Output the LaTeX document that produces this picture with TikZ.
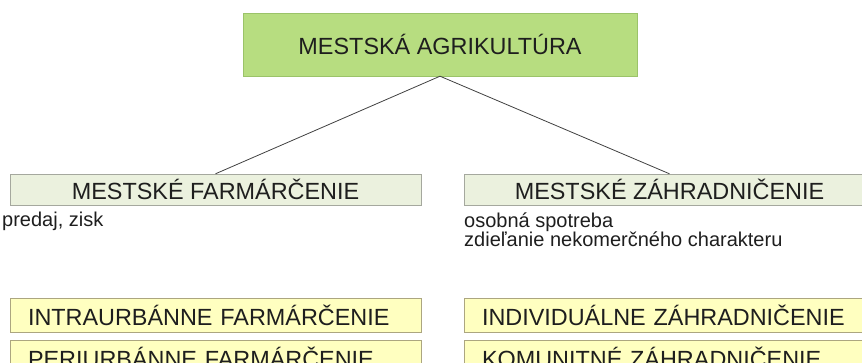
\documentclass[tikz,border=0pt]{standalone}
\usepackage{fontspec}
\setmainfont{Liberation Sans}
\definecolor{topgreen}{RGB}{183,221,128}
\definecolor{topedge}{RGB}{155,195,105}
\definecolor{midgreen}{RGB}{235,241,222}
\definecolor{midedge}{RGB}{165,168,158}
\definecolor{lowyellow}{RGB}{255,255,192}
\definecolor{lowedge}{RGB}{172,166,128}
\definecolor{ink}{RGB}{30,30,30}
\begin{document}
\begin{tikzpicture}[x=1pt,y=-1pt,
    topbox/.style={draw=topedge,fill=topgreen,minimum width=394pt,minimum height=63pt,inner sep=0pt,text height=21pt,text depth=0pt,text=ink,font=\fontsize{23.4}{28}\selectfont},
    midbox/.style={draw=midedge,fill=midgreen,minimum width=411pt,minimum height=31pt,inner sep=0pt,text height=21pt,text depth=0pt,text=ink,font=\fontsize{23.4}{28}\selectfont},
    lowbox/.style={draw=lowedge,fill=lowyellow,text width=375pt,inner xsep=18pt,inner ysep=0pt,minimum height=34pt,align=left,text=ink,font=\fontsize{23.4}{28}\selectfont},
    note/.style={inner sep=0pt,anchor=base west,text=ink,font=\fontsize{20}{20}\selectfont},
    link/.style={draw=ink!85,line width=0.8pt}]
  \useasboundingbox (0,0) rectangle (862,363);
  \clip (0,0) rectangle (862,363);
			\node [topbox] (agri) at (440,44.5) {MESTSKÁ AGRIKULTÚRA};
			\node [midbox] (farm) at (215.5,189.5) {MESTSKÉ FARMÁRČENIE};
			\node [midbox] (garden) at (669.5,189.5) {MESTSKÉ ZÁHRADNIČENIE};
			\draw [link] (agri.south)-- (farm.north);
			\draw [link] (agri.south)-- (garden.north);
			\node [note] (sale) at (2,227) {predaj, zisk};
			\node [note] (use) at (464,228) {osobná spotreba};
			\node [note] (share) at (464,247) {zdieľanie nekomerčného charakteru};
			\node [lowbox] (intra) at (215.5,315) {INTRAURBÁNNE FARMÁRČENIE};
			\node [lowbox] (peri) at (215.5,357) {PERIURBÁNNE FARMÁRČENIE};
			\node [lowbox] (indiv) at (669.5,315) {INDIVIDUÁLNE ZÁHRADNIČENIE};
			\node [lowbox] (komun) at (669.5,357) {KOMUNITNÉ ZÁHRADNIČENIE};
		\end{tikzpicture}
\end{document}
